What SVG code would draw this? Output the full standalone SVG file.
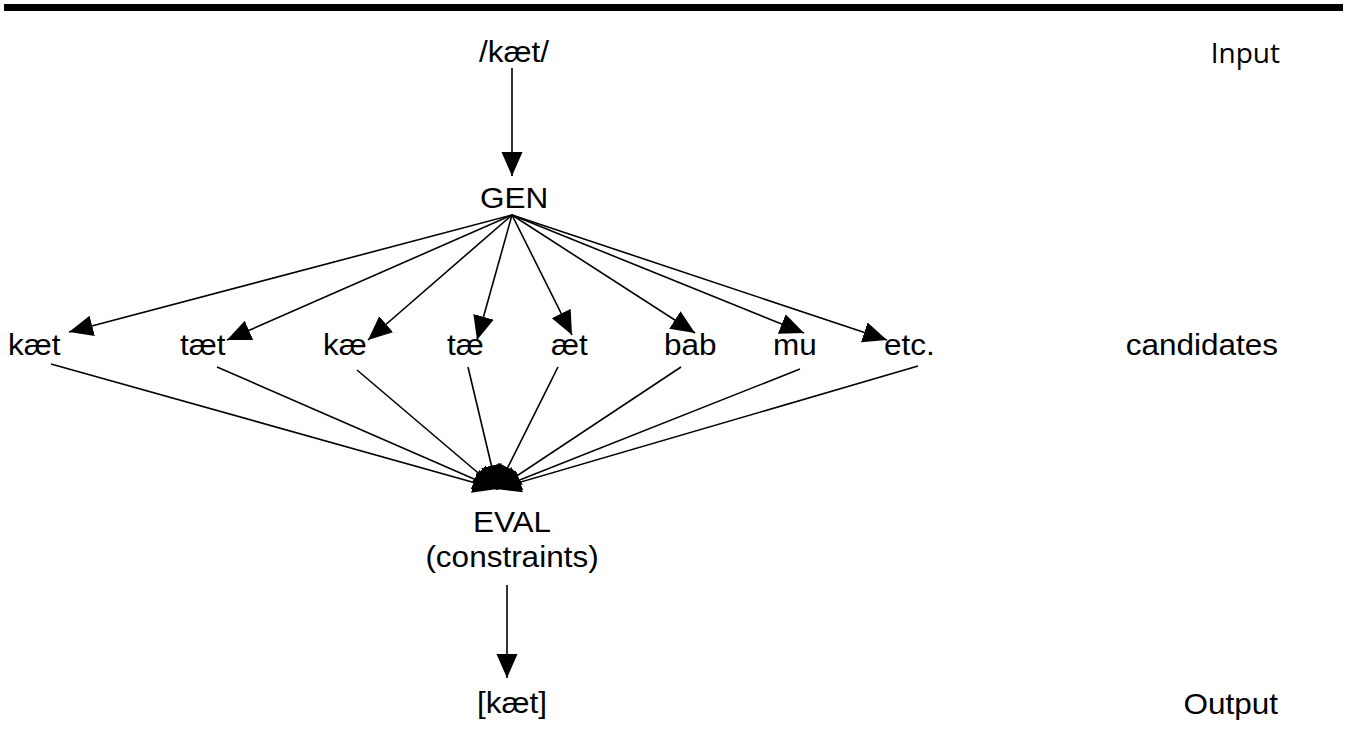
<svg xmlns="http://www.w3.org/2000/svg" width="1347" height="745" viewBox="0 0 1347 745">
<defs>
<marker id="ah" markerUnits="userSpaceOnUse" markerWidth="25" markerHeight="22" refX="24" refY="10.5" orient="auto" viewBox="0 0 25 22">
<path d="M0,0 L24,10.5 L0,21 Z" fill="#000"/>
</marker>
<style>
.t{font-family:"Liberation Sans",Arial,sans-serif;font-size:30px;fill:#000}
.s{font-family:"Open Sans","Noto Sans",sans-serif;font-size:28px;fill:#000}
.a{stroke:#000;stroke-width:1.6;fill:none;marker-end:url(#ah)}
</style>
</defs>
<rect x="4" y="4" width="1339" height="7" fill="#000"/>
<g id="connectors">
<line class="a" x1="512" y1="68" x2="512" y2="176"/>
<line class="a" x1="512" y1="215" x2="69" y2="332"/>
<line class="a" x1="512" y1="215" x2="227" y2="340"/>
<line class="a" x1="512" y1="215" x2="368" y2="340"/>
<line class="a" x1="512" y1="215" x2="477" y2="340"/>
<line class="a" x1="512" y1="215" x2="572" y2="335"/>
<line class="a" x1="512" y1="215" x2="695" y2="333"/>
<line class="a" x1="512" y1="215" x2="804" y2="333"/>
<line class="a" x1="512" y1="215" x2="887" y2="340"/>
<line class="a" x1="51" y1="364" x2="497" y2="489"/>
<line class="a" x1="217" y1="367" x2="497" y2="489"/>
<line class="a" x1="357" y1="370" x2="497" y2="489"/>
<line class="a" x1="468" y1="367" x2="497" y2="489"/>
<line class="a" x1="558" y1="367" x2="497" y2="489"/>
<line class="a" x1="681" y1="367" x2="497" y2="489"/>
<line class="a" x1="800" y1="369" x2="497" y2="489"/>
<line class="a" x1="918" y1="366" x2="497" y2="489"/>
<line class="a" x1="507" y1="585" x2="507" y2="678"/>
</g>
<g id="input"><text class="t" transform="translate(514,62) scale(1.05,1)" text-anchor="middle">/kæt/</text></g>
<g id="gen"><text class="t" transform="translate(514,208) scale(1.05,1)" text-anchor="middle">GEN</text></g>
<g id="cand-kaet"><text class="t" transform="translate(8,355) scale(1.05,1)">kæt</text></g>
<g id="cand-taet"><text class="t" transform="translate(180,355) scale(1.05,1)">tæt</text></g>
<g id="cand-kae"><text class="t" transform="translate(323,355) scale(1.05,1)">kæ</text></g>
<g id="cand-tae"><text class="t" transform="translate(447,355) scale(1.05,1)">tæ</text></g>
<g id="cand-aet"><text class="t" transform="translate(551,355) scale(1.05,1)">æt</text></g>
<g id="cand-bab"><text class="t" transform="translate(664,355) scale(1.05,1)">bab</text></g>
<g id="cand-mu"><text class="t" transform="translate(773,355) scale(1.05,1)">mu</text></g>
<g id="cand-etc"><text class="t" transform="translate(884,355) scale(1.05,1)">etc.</text></g>
<g id="eval">
<text class="t" transform="translate(512,532) scale(1.05,1)" text-anchor="middle">EVAL</text>
<text class="t" transform="translate(512,567) scale(1.05,1)" text-anchor="middle">(constraints)</text>
</g>
<g id="output"><text class="t" transform="translate(512,713) scale(1.05,1)" text-anchor="middle">[kæt]</text></g>
<g id="label-input"><text class="s" x="1280" y="63" text-anchor="end">Input</text></g>
<g id="label-candidates"><text class="t" transform="translate(1278,355) scale(1.05,1)" text-anchor="end">candidates</text></g>
<g id="label-output"><text class="t" transform="translate(1278,714) scale(1.05,1)" text-anchor="end">Output</text></g>
</svg>
